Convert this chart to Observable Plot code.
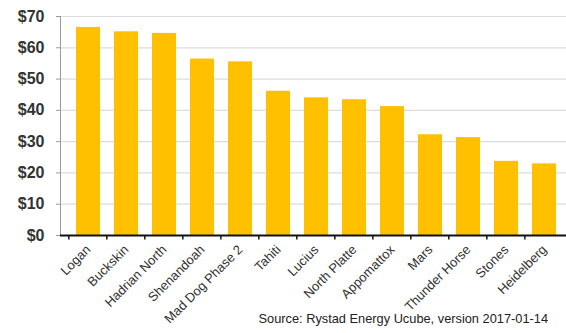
<!DOCTYPE html>
<html>
<head>
<meta charset="utf-8">
<script src="https://cdn.jsdelivr.net/npm/d3@7"></script>
<script src="https://cdn.jsdelivr.net/npm/@observablehq/plot@0.6"></script>
<style>
  html, body { margin: 0; padding: 0; background: #fff; }
  #chart { width: 566px; height: 333px; position: relative; overflow: hidden; font-family: "Liberation Sans", Arial, sans-serif; }
  #chart svg { display: block; }
  #source { position: absolute; right: 18px; top: 311px; font-size: 12.8px; color: #222; white-space: nowrap; }
</style>
</head>
<body>
<div id="chart"></div>
<script>
const fields = ["Logan", "Buckskin", "Hadrian North", "Shenandoah", "Mad Dog Phase 2", "Tahiti", "Lucius", "North Platte", "Appomattox", "Mars", "Thunder Horse", "Stones", "Heidelberg"];
const breakevens = [66.5, 65.1, 64.6, 56.4, 55.5, 46.1, 44.0, 43.4, 41.2, 32.2, 31.3, 23.7, 22.9];
const yTicks = [0, 10, 20, 30, 40, 50, 60, 70];
const sourceText = "Source: Rystad Energy Ucube, version 2017-01-14";

const data = fields.map((f, i) => ({field: f, value: breakevens[i]}));

const step = (572 - 61) / fields.length;

const plot = Plot.plot({
  width: 566,
  height: 333,
  marginLeft: 60,
  marginRight: 0,
  marginTop: 16,
  marginBottom: 98,
  style: {fontFamily: "'Liberation Sans', Arial, sans-serif", background: "white"},
  x: {domain: fields, range: [61, 572], padding: 0.36},
  y: {domain: [0, 70]},
  marks: [
    Plot.gridY(yTicks, {stroke: "#dcdcdc", strokeOpacity: 1, strokeWidth: 1.2}),
    Plot.frame({anchor: "left", stroke: "#9a9a9a"}),
    Plot.axisY(yTicks, {
      tickSize: 4, stroke: "#9a9a9a", tickPadding: 12,
      tickFormat: d => "$" + d, label: null,
      fontSize: 16, fontWeight: "bold", fill: "#333"
    }),
    Plot.barY(data, {x: "field", y: "value", fill: "#FFC000"}),
    Plot.ruleY([0], {stroke: "#111", strokeWidth: 2}),
    Plot.ruleX(fields, {x: d => d, y1: 0, y2: -1.4, dx: -step / 2, stroke: "#111", strokeWidth: 1.5}),
    Plot.axisX({
      tickRotate: -45, tickSize: 0, tickPadding: 12, dx: 0,
      fontSize: 13, fill: "#333", label: null
    })
  ]
});

document.getElementById("chart").appendChild(plot);
const src = document.createElement("div");
src.id = "source";
src.textContent = sourceText;
document.getElementById("chart").appendChild(src);
</script>
</body>
</html>
